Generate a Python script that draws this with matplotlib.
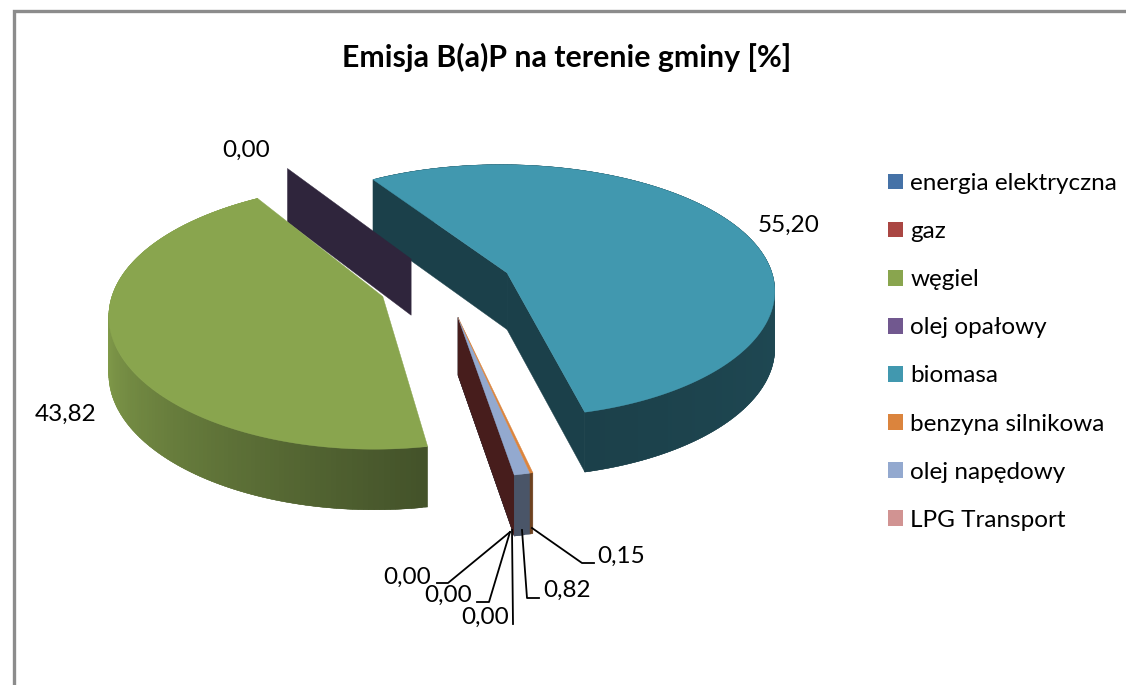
import numpy as np
import matplotlib
matplotlib.use('Agg')
import matplotlib.pyplot as plt
from matplotlib.patches import Polygon, Patch

plt.rcParams['font.family'] = ['Lato', 'DejaVu Sans']

categories = ['energia elektryczna', 'gaz', 'węgiel', 'olej opałowy', 'biomasa',
              'benzyna silnikowa', 'olej napędowy', 'LPG Transport']
values = [0.00, 0.00, 43.82, 0.00, 55.20, 0.15, 0.82, 0.00]
colors = ['#4572a7', '#aa4643', '#89a54e', '#71588f', '#4198af', '#db843d', '#93a9cf', '#d19392']

# pie geometry, in pixels of the picture
CX, CY = 446, 285
RX, RY = 268, 127
DEPTH = 57
PERSP = 0.144
PERSP_X = 0.12
EXPLODE = 0.25
START = -80


def project(x, y, down=0.0):
    s = 1 / (1 + PERSP * y)
    sx = 1 / (1 + PERSP_X * y)
    return CX + RX * x * sx, CY - RY * y * s + DEPTH * down * (1 - 0.057 * y)


def shade(col, f):
    return tuple(c * f for c in matplotlib.colors.to_rgb(col))


def quad(ax, p1, p2, col, z, down=1.0):
    pts = [project(*p1), project(*p2), project(*p2, down), project(*p1, down)]
    ax.add_patch(Polygon(pts, closed=True, fc=col, ec=col, lw=0.3, zorder=z))


def draw_slice(ax, start, end, col, z, side_cols=None, radial=None, direction=None):
    mid = np.radians((start + end) / 2 if direction is None else direction)
    ox, oy = EXPLODE * np.cos(mid), EXPLODE * np.sin(mid)
    angles = np.radians(np.linspace(start, end, max(int(abs(end - start)) + 2, 2)))
    rim = [(ox + np.cos(t), oy + np.sin(t)) for t in angles]
    apex = (ox, oy)

    # outer wall, strips overlap the next one so no seams show in the shading
    for i in range(len(rim) - 1):
        frac = i / (len(rim) - 2) if len(rim) > 2 else 0
        c = side_cols(frac) if side_cols else shade(col, 0.5)
        quad(ax, rim[min(i + 2, len(rim) - 1)], rim[i], c, z + (len(rim) - i) * 1e-4)
    if radial:
        quad(ax, rim[0], apex, shade(col, 0.42), z + 0.1)
        quad(ax, apex, rim[-1], shade(col, 0.42), z + 0.1)
    if abs(end - start) > 0:
        pts = [project(*apex)] + [project(*p) for p in rim]
        ax.add_patch(Polygon(pts, closed=True, fc=col, ec=col, lw=0.3, zorder=z + 0.2))


def green_side(frac):
    # runs from the dark front edge to the lighter left side
    dark = np.array(matplotlib.colors.to_rgb('#44532a'))
    light = np.array(matplotlib.colors.to_rgb('#87a24d'))
    f = min(frac / 0.62, 1)
    return tuple(dark + (light - dark) * f)


def teal_side(frac):
    return shade('#4198af', 0.42 + 0.06 * np.sin(frac * 3.14))


fig = plt.figure(figsize=(11.26, 6.85), dpi=100)
ax = fig.add_axes([0, 0, 1, 1])
ax.set_xlim(0, 1126)
ax.set_ylim(685, 0)
ax.axis('off')

# frame of the chart area, cut by the picture on the right and at the bottom
ax.plot([14, 14, 1126], [685, 11, 11], color='#8c8c8c', lw=2.4, solid_joinstyle='miter')

ax.text(567, 57, 'Emisja B(a)P na terenie gminy [%]', ha='center', va='center',
        fontsize=21.8, fontweight='bold', color='black')

# slices go clockwise from START
total = sum(values)
angle = START
spans = []
for v in values:
    spans.append((angle, angle - v / total * 360))
    angle = spans[-1][1]

order = [4, 3, 2, 7, 0, 1, 6, 5]
for z, i in enumerate(order):
    a0, a1 = spans[i]
    if values[i] == 0 and categories[i] != 'olej opałowy':
        # the zero slices by the thin ones share their explosion, shown only as a wall
        mid = np.radians(START)
        ox, oy = EXPLODE * np.cos(mid), EXPLODE * np.sin(mid)
        t = np.radians(a0)
        quad(ax, (ox, oy), (ox + np.cos(t), oy + np.sin(t)), shade(colors[i], 0.42), z + 1)
    elif values[i] == 0:
        mid = np.radians(a0)
        ox, oy = EXPLODE * np.cos(mid), EXPLODE * np.sin(mid)
        quad(ax, (ox, oy), (ox + np.cos(mid), oy + np.sin(mid)), shade(colors[i], 0.42), z + 1)
    elif categories[i] == 'biomasa':
        draw_slice(ax, a0, a1, colors[i], z + 1, teal_side, radial=True)
    elif categories[i] == 'węgiel':
        draw_slice(ax, a0, a1, colors[i], z + 1, green_side)
    else:
        draw_slice(ax, a0, a1, colors[i], z + 1, direction=START)


def fmt(v):
    return f'{v:.2f}'.replace('.', ',')


label_pos = {'energia elektryczna': (407, 577), 'gaz': (448, 595), 'węgiel': (66, 414),
             'olej opałowy': (246, 150), 'biomasa': (789, 225), 'benzyna silnikowa': (621, 556),
             'olej napędowy': (567, 590), 'LPG Transport': (485, 617)}
for name, v in zip(categories, values):
    x, y = label_pos[name]
    ax.text(x, y, fmt(v), ha='center', va='center', fontsize=17.5, color='black', zorder=30)

leaders = [[(510, 532), (448, 583), (437, 583)],
           [(510, 532), (489, 602), (477, 602)],
           [(512, 530), (513, 624)],
           [(522, 530), (527, 598), (539, 598)],
           [(532, 528), (582, 563), (594, 563)]]
for line in leaders:
    xs, ys = zip(*line)
    ax.plot(xs, ys, color='black', lw=1.3, zorder=29)

handles = [Patch(fc=c, ec='none') for c in colors]
ax.legend(handles, categories, loc='upper left', bbox_to_anchor=(888 / 1126, 1 - 173 / 685),
          frameon=False, fontsize=17.5, handlelength=0.62, handleheight=0.62, handletextpad=0.3,
          labelspacing=1.116, borderpad=0, borderaxespad=0)

fig.savefig('out.png', dpi=100)
